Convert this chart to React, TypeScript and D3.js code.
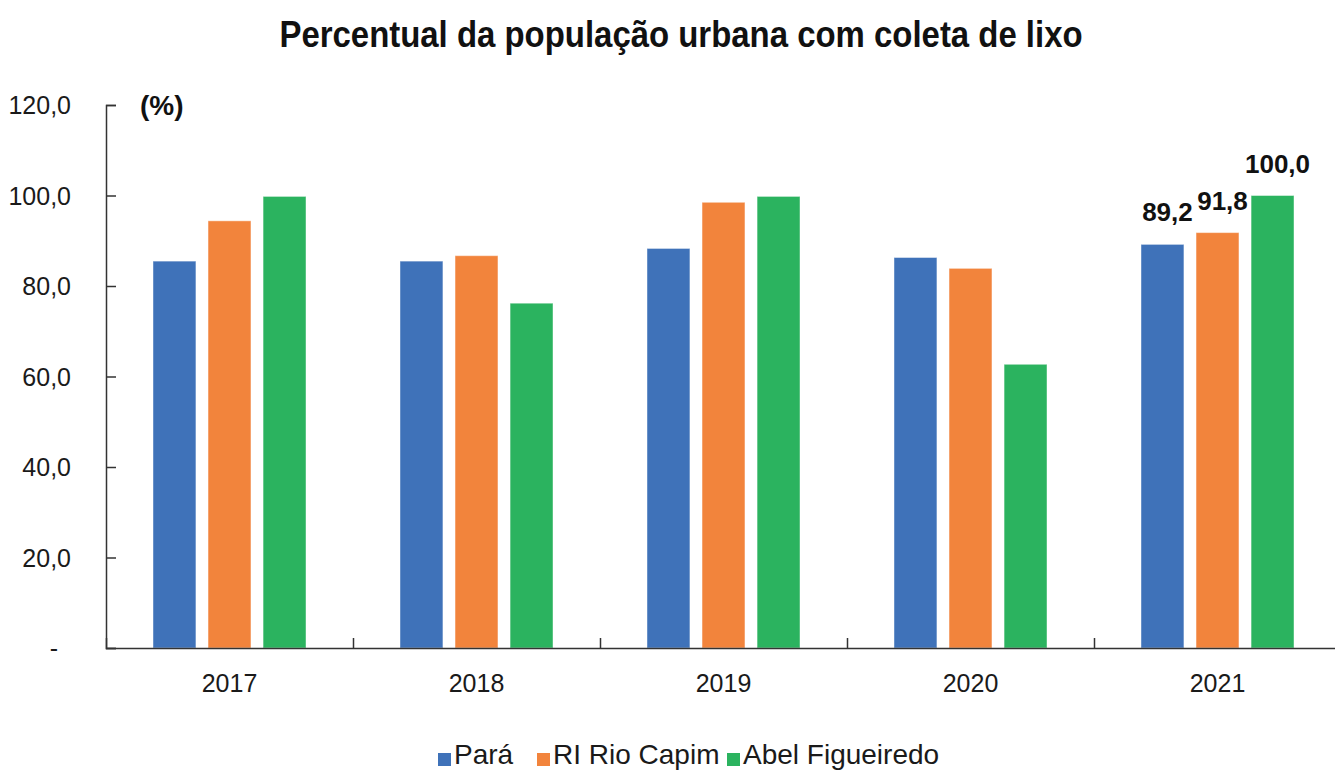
import * as d3 from 'd3';
import React, { useEffect, useRef } from 'react';

// Percentual da população urbana com coleta de lixo (%)
const years = ['2017', '2018', '2019', '2020', '2021'];
const seriesNames = ['Pará', 'RI Rio Capim', 'Abel Figueiredo'];
const para = [85.5, 85.5, 88.3, 86.3, 89.2];
const rioCapim = [94.4, 86.7, 98.5, 83.9, 91.8];
const abelFigueiredo = [99.8, 76.2, 99.8, 62.7, 100.0];
const yTicks = [0, 20, 40, 60, 80, 100, 120];
const labeledYear = '2021';

const colors = ['#3f72b9', '#f2843c', '#2bb35f'];
const font = '"Liberation Sans Narrow", "Arial Narrow", "Liberation Sans", Arial, sans-serif';

const W = 1335, H = 770;
const m = { left: 106, right: 1341, top: 105, bottom: 648 };

export default function App() {
    const xAxisRef = useRef<SVGGElement>(null);
    const yAxisRef = useRef<SVGGElement>(null);

    const values = [para, rioCapim, abelFigueiredo];

    const x0 = d3.scaleBand().domain(years).range([m.left, m.right]).padding(0);
    const x1 = d3.scaleBand().domain(seriesNames)
        .range([47, x0.bandwidth() - 47])
        .paddingInner(0.22).paddingOuter(0);
    const y = d3.scaleLinear().domain([0, 120]).range([m.bottom, m.top]);

    useEffect(() => {
        const fmt = (d: number) => d === 0 ? '-' : d3.format('.1f')(d).replace('.', ',');

        const ya = d3.select(yAxisRef.current);
        ya.call(d3.axisLeft(y).tickValues(yTicks).tickSize(-10).tickPadding(36).tickFormat(fmt as any));
        ya.selectAll('.domain').attr('stroke', '#333').attr('stroke-width', 1.5);
        ya.selectAll('.tick line').attr('stroke', '#333').attr('stroke-width', 1.5);
        ya.selectAll('.tick text')
            .attr('font-family', font).attr('font-size', 25).attr('fill', '#1a1a1a')
            .attr('dy', '0.34em')
            .attr('x', (d: any) => d === 0 ? -48 : -35);

        const xa = d3.select(xAxisRef.current);
        const edges = years.map(yr => x0(yr)!).concat([m.right]);
        xa.call(d3.axisBottom(d3.scaleLinear().domain([m.left, m.right]).range([m.left, m.right]))
            .tickValues(edges.slice(1)).tickSize(-10).tickFormat(() => ''));
        xa.selectAll('.domain').attr('stroke', '#333').attr('stroke-width', 1.5);
        xa.selectAll('.tick line').attr('stroke', '#333').attr('stroke-width', 1.5);
    }, []);

    const legendX = [438, 537, 727];

    return (
        <div style={{ position: 'absolute', left: 0, top: 0 }}>
            <svg width={W} height={H} style={{ display: 'block', background: '#fff' }}>
                <g transform="translate(681,47) scale(0.89,1)">
                    <text x={0} y={0} textAnchor="middle" fontFamily={font} fontWeight="bold"
                        fontSize={37} fill="#111">Percentual da população urbana com coleta de lixo</text>
                </g>

                <text x={140} y={115} fontFamily={font} fontWeight="bold" fontSize={28} fill="#111">(%)</text>

                <g>
                    {years.map((yr, i) => (
                        <g key={yr} transform={`translate(${x0(yr)},0)`}>
                            {seriesNames.map((s, j) => (
                                <rect key={s}
                                    x={x1(s)}
                                    y={y(values[j][i])}
                                    width={x1.bandwidth()}
                                    height={y(0) - y(values[j][i])}
                                    fill={colors[j]}
                                    stroke="#ffffff" strokeOpacity={0.45} strokeWidth={1} />
                            ))}
                            {yr === labeledYear && seriesNames.map((s, j) => (
                                <text key={s + 'l'}
                                    x={x1(s)! + x1.bandwidth() / 2 + 5}
                                    y={y(values[j][i]) - 23}
                                    textAnchor="middle" fontFamily={font} fontWeight="bold"
                                    fontSize={26} fill="#111">
                                    {d3.format('.1f')(values[j][i]).replace('.', ',')}
                                </text>
                            ))}
                            <text x={x0.bandwidth() / 2} y={692} textAnchor="middle"
                                fontFamily={font} fontSize={25} fill="#1a1a1a">{yr}</text>
                        </g>
                    ))}
                </g>

                <g ref={yAxisRef} transform={`translate(${m.left},0)`}></g>
                <g ref={xAxisRef} transform={`translate(0,${m.bottom})`}></g>

                <g>
                    {seriesNames.map((s, j) => (
                        <g key={s} transform={`translate(${legendX[j]},0)`}>
                            <rect x={0} y={753} width={13} height={13} fill={colors[j]} />
                            <text x={16} y={764} fontFamily={font} fontSize={28} fill="#1a1a1a">{s}</text>
                        </g>
                    ))}
                </g>
            </svg>
        </div>
    );
}
